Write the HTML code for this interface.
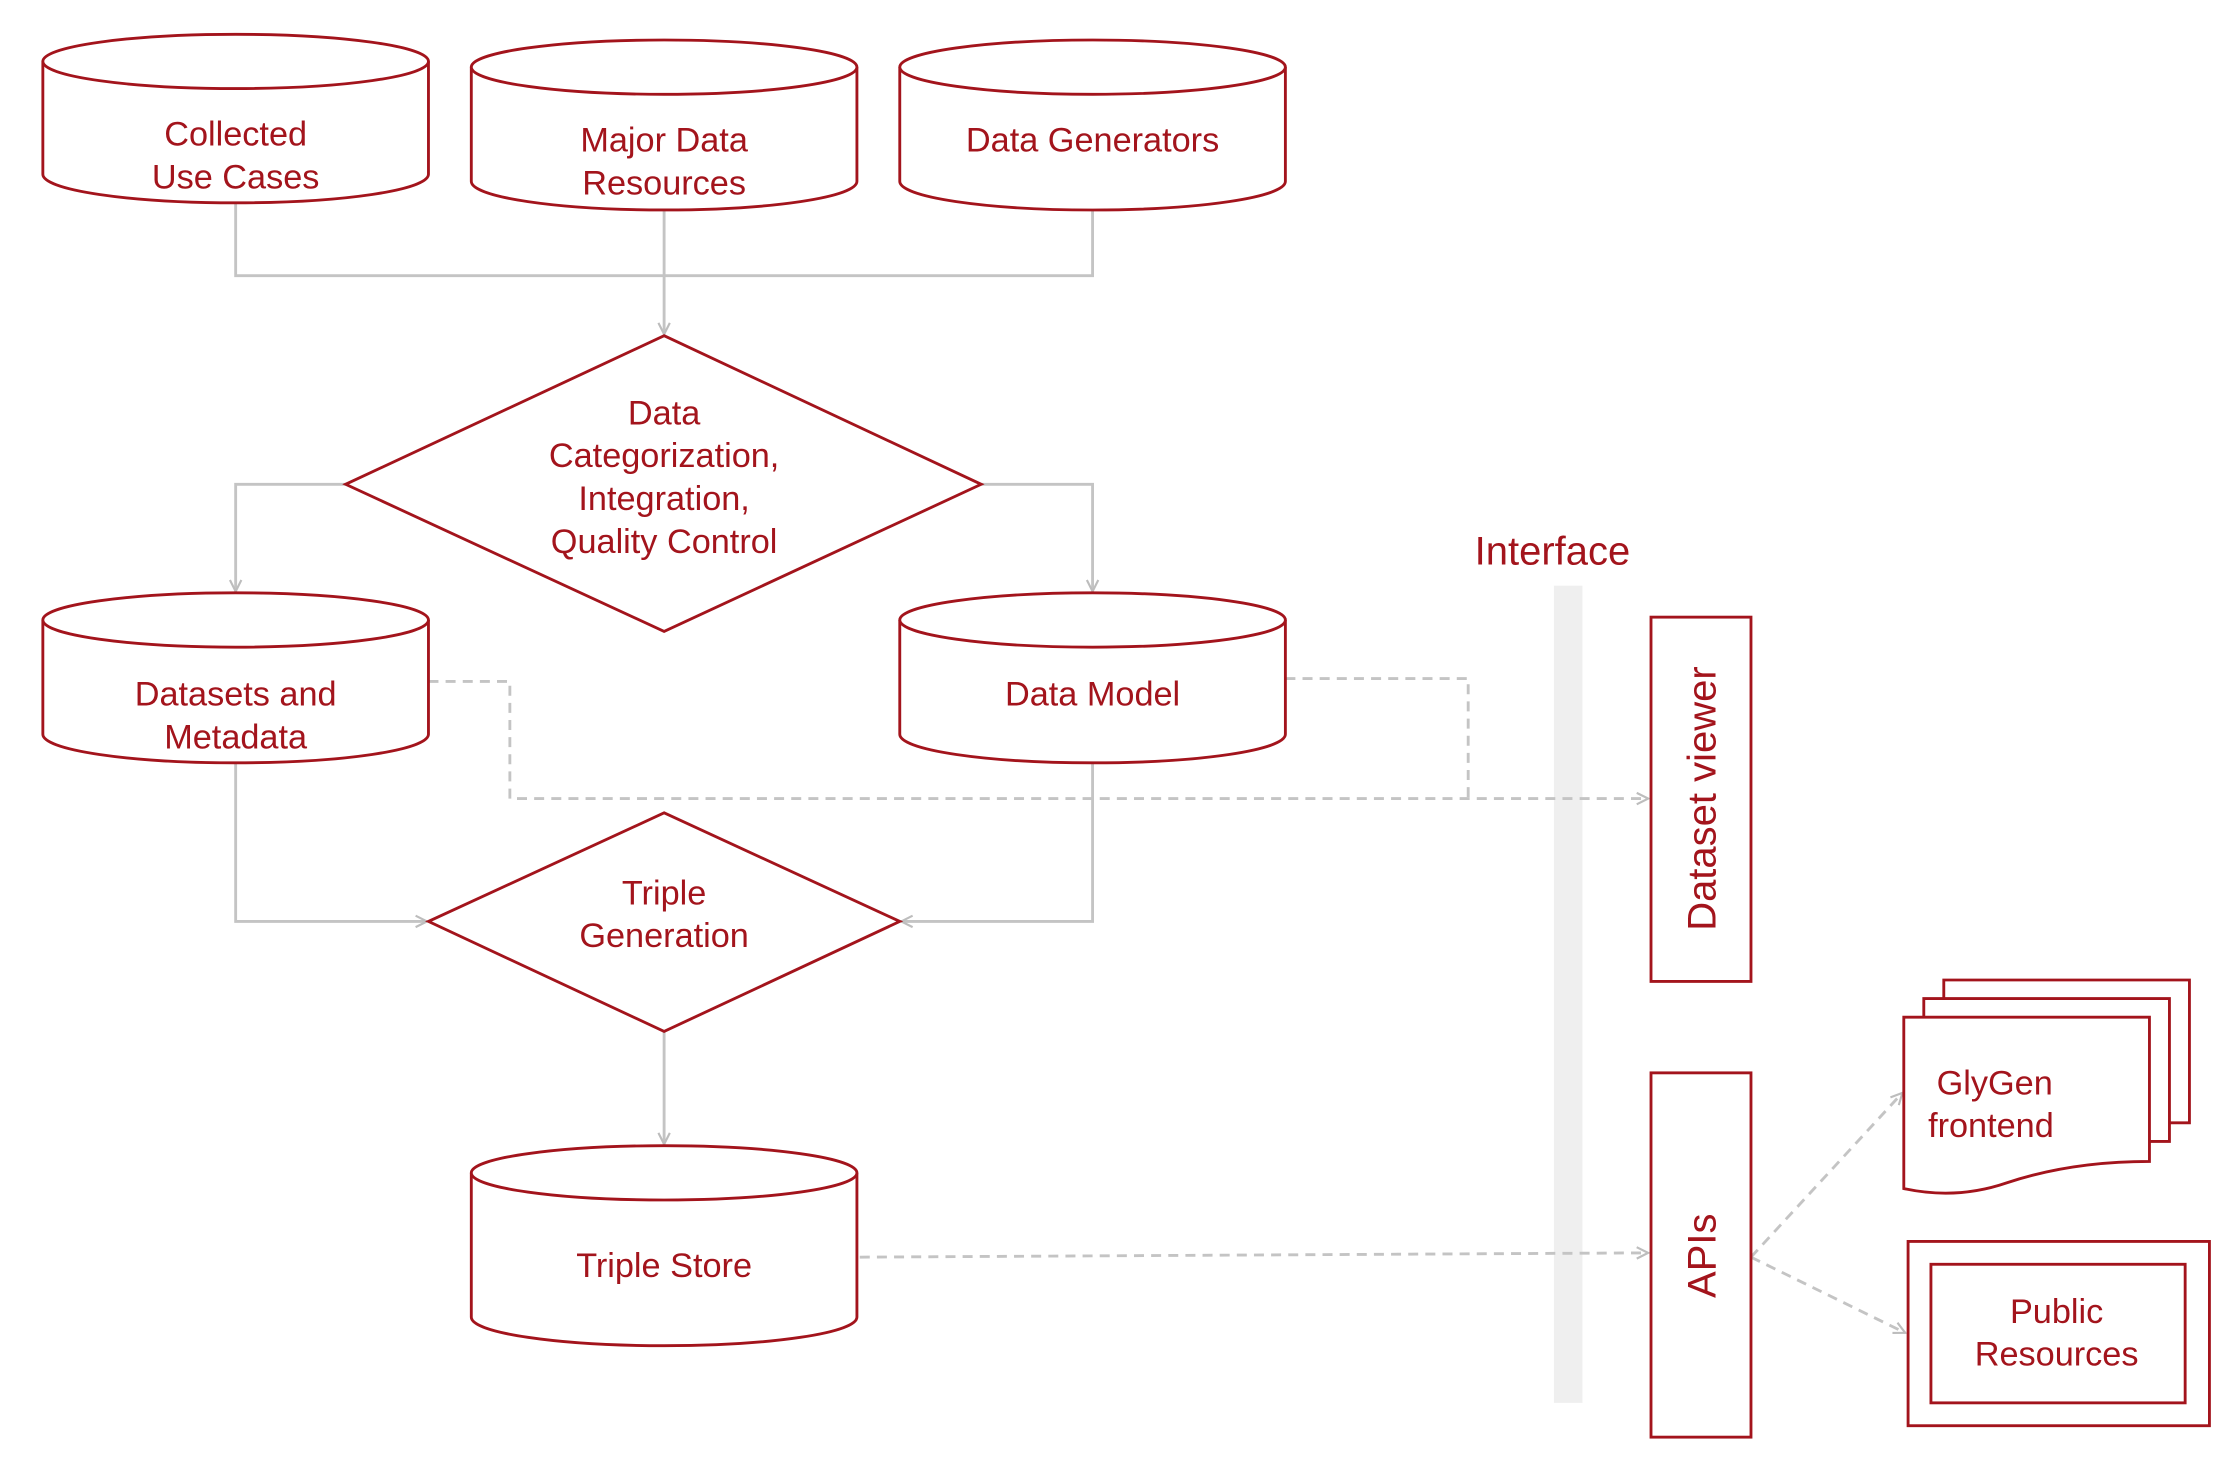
<!DOCTYPE html>
<html><head><meta charset="utf-8"><style>
html,body{margin:0;padding:0;background:#fff;}
svg{display:block;}
text{font-family:"Liberation Sans",sans-serif;fill:#a3141c;}
</style></head><body>
<svg width="2228" height="1460" viewBox="0 0 1560 1022" preserveAspectRatio="none" xmlns="http://www.w3.org/2000/svg">
<defs>
<marker id="a" markerWidth="10" markerHeight="10" refX="9" refY="5" orient="auto" markerUnits="userSpaceOnUse">
<path d="M1,1 L9,5 L1,9" fill="none" stroke="#bdbdbd" stroke-width="1.5"/>
</marker>
</defs>
<rect x="1088" y="410" width="20" height="572" fill="#efefef"/>
<g fill="none" stroke="#c4c4c4" stroke-width="2">
<path d="M165,142 V193 H765 V147"/>
<path d="M465,147 V234" marker-end="url(#a)"/>
<path d="M242,339 H165 V414" marker-end="url(#a)"/>
<path d="M687,339 H765 V414" marker-end="url(#a)"/>
<path d="M165,534 V645 H299" marker-end="url(#a)"/>
<path d="M765,534 V645 H631" marker-end="url(#a)"/>
<path d="M465,722 V801" marker-end="url(#a)"/>
<g stroke-dasharray="7,5">
<path d="M300,477 H357 V559 H1154" marker-end="url(#a)"/>
<path d="M900,475 H1028 V559"/>
<path d="M602,880 L1154,877" marker-end="url(#a)"/>
<path d="M1226,880 L1332,765" marker-end="url(#a)"/>
<path d="M1226,880 L1334,933" marker-end="url(#a)"/>
</g>
</g>
<g fill="#fff" stroke="#a3141c" stroke-width="2">
<path d="M30,43 V122 A135,20 0 0 0 300,122 V43"/><ellipse cx="165" cy="43" rx="135" ry="19"/>
<path d="M330,47 V127 A135,20 0 0 0 600,127 V47"/><ellipse cx="465" cy="47" rx="135" ry="19"/>
<path d="M630,47 V127 A135,20 0 0 0 900,127 V47"/><ellipse cx="765" cy="47" rx="135" ry="19"/>
<path d="M30,434 V514 A135,20 0 0 0 300,514 V434"/><ellipse cx="165" cy="434" rx="135" ry="19"/>
<path d="M630,434 V514 A135,20 0 0 0 900,514 V434"/><ellipse cx="765" cy="434" rx="135" ry="19"/>
<path d="M330,821 V922 A135,20 0 0 0 600,922 V821"/><ellipse cx="465" cy="821" rx="135" ry="19"/>
<polygon points="465,235 687,339 465,442 242,339"/>
<polygon points="465,569 630,645 465,722 300,645"/>
<rect x="1156" y="432" width="70" height="255"/>
<rect x="1156" y="751" width="70" height="255"/>
<path d="M1361,699 V686 H1533 V786 H1519"/>
<path d="M1347,712 V699 H1519 V799 H1505"/>
<path d="M1333,712 H1505 V813 Q1450,813 1405,828 Q1370,840 1333,832 Z"/>
<rect x="1336" y="869" width="211" height="129"/>
<rect x="1352" y="885" width="178" height="97"/>
</g>
<g font-size="24" text-anchor="middle">
<text x="165" y="102">Collected</text><text x="165" y="132">Use Cases</text>
<text x="465" y="106">Major Data</text><text x="465" y="136">Resources</text>
<text x="765" y="106">Data Generators</text>
<text x="465" y="297">Data</text><text x="465" y="327">Categorization,</text><text x="465" y="357">Integration,</text><text x="465" y="387">Quality Control</text>
<text x="165" y="494">Datasets and</text><text x="165" y="524">Metadata</text>
<text x="765" y="494">Data Model</text>
<text x="465" y="633">Triple</text><text x="465" y="663">Generation</text>
<text x="465" y="894">Triple Store</text>
<text x="1440" y="926">Public</text><text x="1440" y="956">Resources</text>
<text x="1087" y="395" font-size="28">Interface</text>
<text transform="translate(1201,559) rotate(-90)" font-size="28">Dataset viewer</text>
<text transform="translate(1201,879) rotate(-90)" font-size="28">APIs</text>
</g>
<g font-size="24">
<text x="1356" y="766">GlyGen</text><text x="1350" y="796">frontend</text>
</g>
</svg>
</body></html>
